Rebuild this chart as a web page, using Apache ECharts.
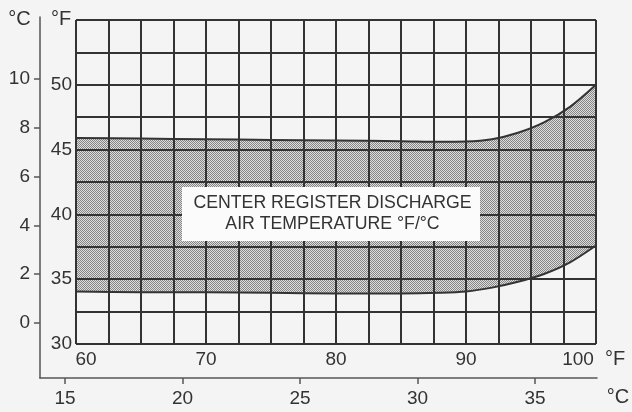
<!DOCTYPE html>
<html>
<head>
<meta charset="utf-8">
<script src="https://cdn.jsdelivr.net/npm/echarts@6.0.0/dist/echarts.min.js"></script>
<style>
html,body{margin:0;padding:0;background:#f4f4f4;}
#chart{width:632px;height:412px;}
</style>
</head>
<body>
<div id="chart"></div>
<script>
// ---- data ----
const fahrenheit = [60, 65, 70, 75, 80, 85, 88, 90, 92, 94, 96, 98, 100];
const upperF = [45.9, 45.85, 45.8, 45.75, 45.7, 45.65, 45.6, 45.62, 45.8, 46.3, 47.1, 48.3, 50.0];
const lowerF = [34.05, 34.0, 34.0, 33.95, 33.9, 33.9, 33.95, 34.05, 34.35, 34.8, 35.4, 36.3, 37.6];
const fLabelsY = [30, 35, 40, 45, 50];
const fLabelsX = [60, 70, 80, 90, 100];
const cLabelsY = [0, 2, 4, 6, 8, 10];
const cLabelsX = [15, 20, 25, 30, 35];
const boxLines = ['CENTER REGISTER DISCHARGE', 'AIR TEMPERATURE °F/°C'];

const BG = '#f4f4f4';
// halftone-like pattern for the shaded band
const pat = document.createElement('canvas');
pat.width = 2; pat.height = 2;
const pc = pat.getContext('2d');
pc.fillStyle = '#dedede'; pc.fillRect(0, 0, 2, 2);
pc.fillStyle = '#858585'; pc.fillRect(0, 0, 1, 1); pc.fillRect(1, 1, 1, 1);

const FONT = '"Liberation Sans", Arial, sans-serif';
const TXT = '#333';

const upperData = fahrenheit.map((x, i) => [x, upperF[i]]);
const lowerData = fahrenheit.map((x, i) => [x, lowerF[i]]);

const chart = echarts.init(document.getElementById('chart'), null, {renderer: 'canvas'});
chart.setOption({
  backgroundColor: BG,
  animation: false,
  grid: [
    {left: 76, right: 36, top: 20, bottom: 68},
    {left: 40, right: 35, top: 17, bottom: 34}
  ],
  xAxis: [
    {
      type: 'value', gridIndex: 0, min: 60, max: 100, interval: 2.5, z: 3,
      axisLine: {show: false, onZero: false}, axisTick: {show: false},
      splitLine: {show: true, lineStyle: {color: '#333', width: 2}},
      axisLabel: {
        margin: 6, fontSize: 19, fontFamily: FONT, color: TXT,
        formatter: v => {
          if (fLabelsX.indexOf(v) < 0) return '';
          if (v === fLabelsX[0]) return '{l|' + v + '}';
          if (v === fLabelsX[fLabelsX.length - 1]) return '{r|' + v + '}';
          return '' + v;
        },
        rich: {
          l: {fontSize: 19, fontFamily: FONT, color: TXT, padding: [0, 0, 0, 20]},
          r: {fontSize: 19, fontFamily: FONT, color: TXT, padding: [0, 36, 0, 0]}
        }
      }
    },
    {
      type: 'value', gridIndex: 1, min: 13.936, max: 37.638, position: 'bottom',
      axisLine: {show: true, onZero: false, lineStyle: {color: '#555', width: 1.5}},
      axisTick: {show: true, length: 6, customValues: cLabelsX, lineStyle: {color: '#555', width: 1.5}},
      splitLine: {show: false},
      axisLabel: {customValues: cLabelsX, margin: 11, fontSize: 19, fontFamily: FONT, color: TXT}
    }
  ],
  yAxis: [
    {
      type: 'value', gridIndex: 0, min: 30, max: 55, interval: 2.5, z: 3,
      axisLine: {show: false, onZero: false}, axisTick: {show: false},
      splitLine: {show: true, lineStyle: {color: '#333', width: 2}},
      axisLabel: {
        margin: 4, fontSize: 19, fontFamily: FONT, color: TXT,
        formatter: v => (fLabelsY.indexOf(v) >= 0 ? '' + v : '')
      }
    },
    {
      type: 'value', gridIndex: 1, min: -2.254, max: 12.541, position: 'left',
      axisLine: {show: true, onZero: false, lineStyle: {color: '#555', width: 1.5}},
      axisTick: {show: true, length: 6, customValues: cLabelsY, lineStyle: {color: '#555', width: 1.5}},
      splitLine: {show: false},
      axisLabel: {customValues: cLabelsY, margin: 10, fontSize: 19, fontFamily: FONT, color: TXT}
    }
  ],
  series: [
    {
      name: 'upper', type: 'line', xAxisIndex: 0, yAxisIndex: 0, z: 1,
      data: upperData, smooth: 0.3, symbol: 'none',
      lineStyle: {color: '#333', width: 2},
      areaStyle: {color: {image: pat, repeat: 'repeat'}, opacity: 1, origin: 'start'}
    },
    {
      name: 'lower', type: 'line', xAxisIndex: 0, yAxisIndex: 0, z: 2,
      data: lowerData, smooth: 0.3, symbol: 'none',
      lineStyle: {color: '#333', width: 2},
      areaStyle: {color: BG, opacity: 1, origin: 'start'}
    }
  ],
  graphic: [
    {type: 'rect', z: 20, shape: {x: 182, y: 187, width: 298, height: 54}, style: {fill: '#fbfbfb'}},
    {type: 'text', z: 21, style: {text: boxLines[0], x: 332.5, y: 203, align: 'center', verticalAlign: 'middle', font: '17.7px ' + FONT, fill: TXT}},
    {type: 'text', z: 21, style: {text: boxLines[1], x: 332.5, y: 224, align: 'center', verticalAlign: 'middle', font: '17.7px ' + FONT, fill: TXT}},
    {type: 'text', z: 21, style: {text: '°C', x: 19.5, y: 19, align: 'center', verticalAlign: 'middle', font: '20px ' + FONT, fill: TXT}},
    {type: 'text', z: 21, style: {text: '°F', x: 61, y: 19, align: 'center', verticalAlign: 'middle', font: '20px ' + FONT, fill: TXT}},
    {type: 'text', z: 21, style: {text: '°F', x: 615, y: 359, align: 'center', verticalAlign: 'middle', font: '20px ' + FONT, fill: TXT}},
    {type: 'text', z: 21, style: {text: '°C', x: 618, y: 397, align: 'center', verticalAlign: 'middle', font: '20px ' + FONT, fill: TXT}}
  ]
});
</script>
</body>
</html>
